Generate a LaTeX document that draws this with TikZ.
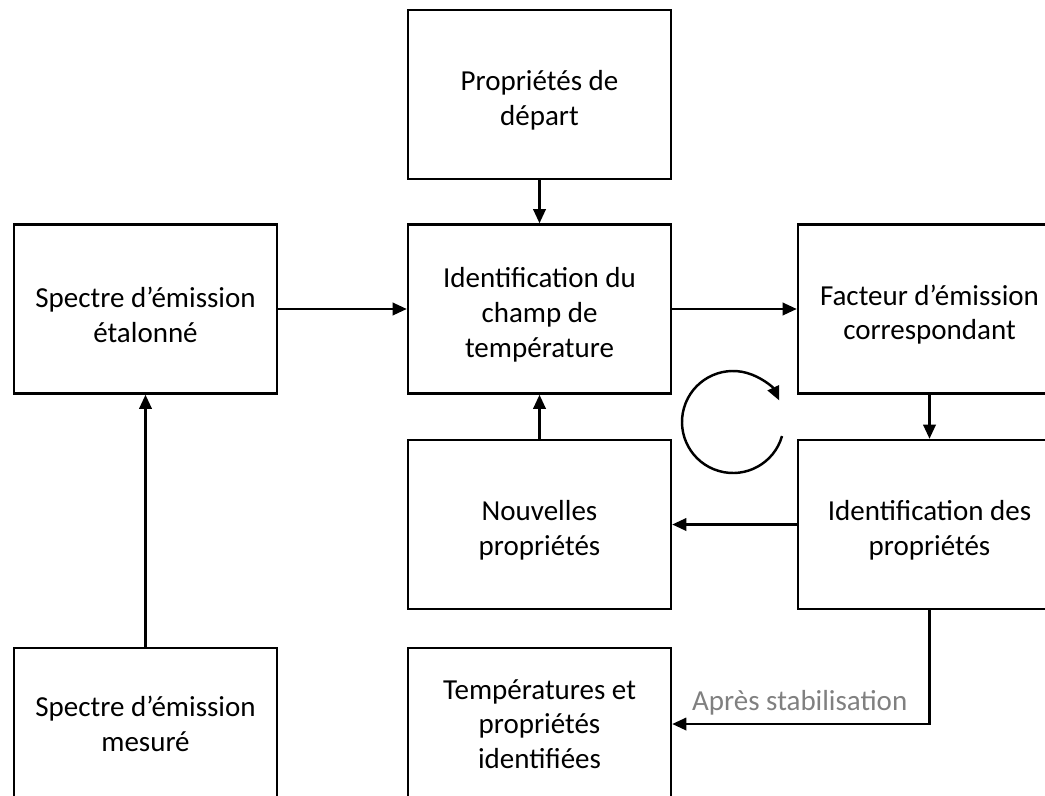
\documentclass[tikz,border=0pt]{standalone}
\usepackage{fontspec}
\setmainfont{Carlito}
\usetikzlibrary{arrows.meta}
\newcommand{\tstrut}{\rule{0pt}{18pt}}

\begin{document}
\begin{tikzpicture}[x=0.02cm,y=0.02cm,>={Triangle[length=8pt,width=7pt]},
  box/.style={draw,line width=1.4pt,minimum width=5.26cm,minimum height=3.38cm,inner sep=0pt,align=center,
    font=\fontsize{16.5}{19.7}\selectfont},
  lowbox/.style={box,minimum height=3.04cm},
  arr/.style={->,line width=1.4pt},
  lbl/.style={text=black!50,inner sep=0pt,font=\fontsize{16.5}{19.7}\selectfont}]
\useasboundingbox (0,0) rectangle (1045,-795);
\clip (0,0) rectangle (1045,-795);
% boxes
\node[box] (depart) at (539.5,-94.5) {\tstrut Propriétés de\\départ};
\node[box] (etal) at (145.5,-309) {\tstrut Spectre d’émission\\étalonné};
\node[box] (champ) at (539.5,-309) {\tstrut Identification du\\champ de\\température};
\node[box] (facteur) at (929.5,-309) {\tstrut Facteur d’émission\\correspondant};
\node[box] (nouv) at (539.5,-524.5) {\tstrut Nouvelles\\propriétés};
\node[box] (identif) at (929.5,-524.5) {\tstrut Identification des\\propriétés};
\node[lowbox] (mesure) at (145.5,-724) {Spectre d’émission\\mesuré};
\node[lowbox] (temper) at (539.5,-724) {Températures et\\propriétés\\identifiées};
% connectors
\draw[arr] (depart) -- (champ);
\draw[arr] (etal) -- (champ);
\draw[arr] (champ) -- (facteur);
\draw[arr] (facteur) -- (identif);
\draw[arr] (identif) -- (nouv);
\draw[arr] (nouv) -- (champ);
\draw[arr] (mesure) -- (etal);
\draw[arr] (identif.south) |- (temper.east)
  node[lbl,pos=0.5,anchor=base east,xshift=-0.42cm,yshift=0.28cm] (stab) {Après stabilisation};
% loop symbol
\coordinate (cyc) at (733,-422);
\draw[arr] ([shift={(-16:51)}]cyc) arc[start angle=-16,end angle=-335,radius=51];
\end{tikzpicture}
\end{document}
